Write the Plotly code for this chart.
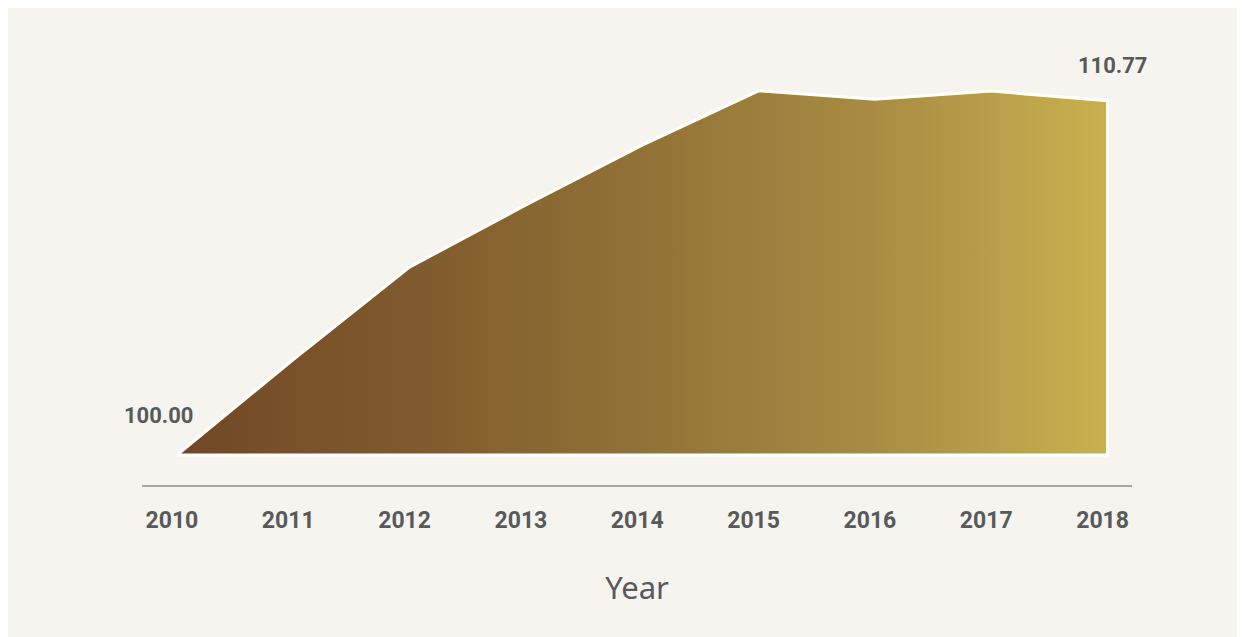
import plotly.graph_objects as go

# index values by year
YEARS = [2010, 2011, 2012, 2013, 2014, 2015, 2016, 2017, 2018]
VALUES = [100.00, 102.9, 105.71, 107.6, 109.42, 111.07, 110.81, 111.06, 110.77]
AXIS_TITLE = "Year"

TEXT = "#58595b"
PANEL = "#f5f4ef"
GRADIENT = [
    [0.0, "#714725"],
    [0.25, "#7f5a2d"],
    [0.5, "#917236"],
    [0.75, "#a88c43"],
    [1.0, "#c9b14f"],
]

# close the shape along the baseline so the white outline runs all round
base = VALUES[0]
xs = YEARS + [YEARS[-1], YEARS[0]]
ys = VALUES + [base, base]

fig = go.Figure()

fig.add_trace(
    go.Scatter(
        x=xs,
        y=ys,
        mode="lines",
        fill="toself",
        fillgradient=dict(type="horizontal", colorscale=GRADIENT),
        line=dict(color="white", width=3),
        hoverinfo="skip",
        showlegend=False,
    )
)

label_font = dict(family="Roboto", size=22, color=TEXT, weight="bold")
fig.add_annotation(
    x=YEARS[0], y=VALUES[0], text=f"{VALUES[0]:.2f}",
    showarrow=False, font=label_font, xshift=-18, yshift=40,
)
fig.add_annotation(
    x=YEARS[-1], y=VALUES[-1], text=f"{VALUES[-1]:.2f}",
    showarrow=False, font=label_font, xshift=5, yshift=35,
)

fig.update_layout(
    width=1237,
    height=629,
    paper_bgcolor=PANEL,
    plot_bgcolor=PANEL,
    margin=dict(l=134, r=113, t=52, b=152),
    xaxis=dict(
        range=[2009.7, 2018.21],
        tickmode="array",
        tickvals=YEARS,
        ticktext=[str(y) for y in YEARS],
        tickfont=dict(family="Roboto", size=23, color=TEXT, weight="bold"),
        ticks="",
        ticklabelstandoff=13,
        ticklabelshift=-5,
        showgrid=False,
        zeroline=False,
        showline=True,
        linecolor="#a7a8a8",
        linewidth=2,
        title=dict(
            text=AXIS_TITLE,
            font=dict(family="Noto Sans", size=31, color=TEXT),
            standoff=45,
        ),
    ),
    yaxis=dict(
        range=[99.088, 112.006],
        visible=False,
        showgrid=False,
        zeroline=False,
    ),
)

fig.write_html("out.html")
